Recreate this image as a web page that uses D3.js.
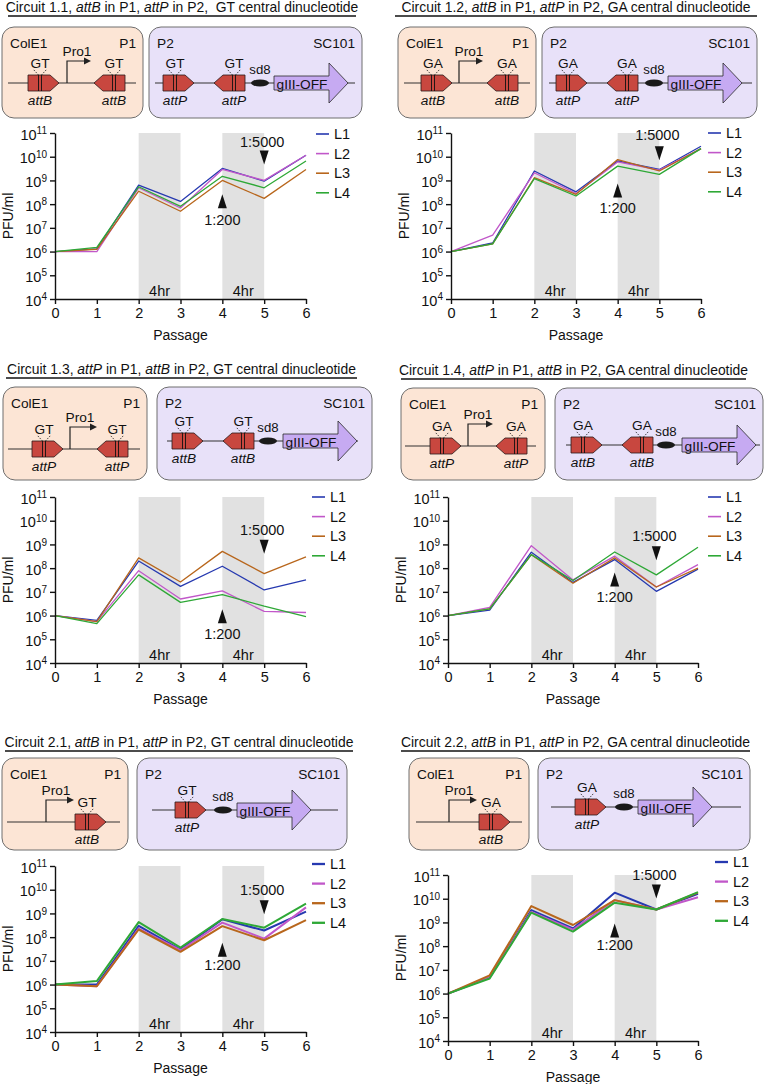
<!DOCTYPE html>
<html lang="en">
<head>
<meta charset="UTF-8">
<title>Phage passage titres, circuits 1.1 - 2.2</title>
<script src="https://d3js.org/d3.v7.min.js"></script>
<style>
    body { margin: 0; background: #fff; }
    svg { display: block; }
    text { font-family: "Liberation Sans", Arial, sans-serif; fill: #111; }
    .axis path, .axis line { stroke: #111; stroke-width: 1.4; }
    .p1 { fill: #fce5d5; stroke: #6e6e6e; stroke-width: 1; }
    .p2 { fill: #e8e1f9; stroke: #6e6e6e; stroke-width: 1; }
    .backbone { stroke: #333; stroke-width: 1.2; }
    .att { fill: #c8473f; stroke: #2a1a1a; stroke-width: 0.8; }
    .gene { fill: #c6aaf2; stroke: #2a2a2a; stroke-width: 0.8; }
    .shade { fill: #e1e1e1; }
</style>
</head>
<body>
<svg width="766" height="1084"></svg>
<script>
    // ---- data ----
    const passages = [0, 1, 2, 3, 4, 5, 6];
    const lineNames = ["L1", "L2", "L3", "L4"];
    const yTicks = [1e4, 1e5, 1e6, 1e7, 1e8, 1e9, 1e10, 1e11];
    const shaded = [[2, 3], [4, 5]];
    const shadeLabel = "4hr";

    // PFU/ml per passage, rows L1..L4
    const c11 = [
        [1e6, 1.3e6, 6.3e8, 1.3e8, 3.2e9, 9.3e8, 1.15e10],
        [1e6, 1.0e6, 4.9e8, 6.9e7, 2.9e9, 1.0e9, 1.15e10],
        [1e6, 1.25e6, 3.5e8, 5.0e7, 1.0e9, 1.75e8, 2.9e9],
        [1e6, 1.5e6, 5.4e8, 8.1e7, 1.5e9, 4.9e8, 6.6e9]
    ];
    const c12 = [
        [1e6, 2.3e6, 2.5e9, 3.3e8, 6.6e9, 2.9e9, 2.75e10],
        [1e6, 4.9e6, 2.1e9, 2.8e8, 6.0e9, 2.7e9, 2.2e10],
        [1e6, 2.1e6, 1.3e9, 2.6e8, 7.6e9, 2.5e9, 2.2e10],
        [1e6, 2.1e6, 1.2e9, 2.2e8, 4.0e9, 1.8e9, 2.2e10]
    ];
    const c13 = [
        [1e6, 6.3e5, 2.0e8, 1.7e7, 1.2e8, 1.2e7, 3.2e7],
        [1e6, 5.6e5, 7.8e7, 5.0e6, 1.1e7, 1.5e6, 1.35e6],
        [1e6, 5.6e5, 2.7e8, 2.6e7, 5.1e8, 5.9e7, 3.0e8],
        [1e6, 4.6e5, 5.2e7, 3.6e6, 7.6e6, 2.5e6, 9.1e5]
    ];
    const c14 = [
        [1e6, 1.7e6, 4.7e8, 2.5e7, 2.3e8, 1.05e7, 9.1e7],
        [1e6, 2.2e6, 8.9e8, 3.2e7, 3.2e8, 1.6e7, 1.4e8],
        [1e6, 1.9e6, 3.7e8, 2.3e7, 2.7e8, 1.6e7, 1.0e8],
        [1e6, 1.9e6, 3.7e8, 3.0e7, 4.8e8, 5.2e7, 7.6e8]
    ];
    const c21 = [
        [1e6, 1.0e6, 3.0e8, 3.0e7, 5.6e8, 1.9e8, 1.2e9],
        [1e6, 8.5e5, 2.3e8, 2.8e7, 4.1e8, 8.7e7, 1.8e9],
        [1e6, 8.5e5, 2.1e8, 2.4e7, 2.9e8, 7.4e7, 5.2e8],
        [1e6, 1.4e6, 4.3e8, 3.6e7, 5.8e8, 2.5e8, 2.6e9]
    ];
    const c22 = [
        [1e6, 4.8e6, 3.3e9, 5.6e8, 1.8e10, 3.5e9, 1.6e10],
        [1e6, 4.8e6, 2.8e9, 5.0e8, 8.7e9, 3.5e9, 1.15e10],
        [1e6, 5.9e6, 4.9e9, 7.8e8, 8.7e9, 3.5e9, 1.8e10],
        [1e6, 4.3e6, 2.6e9, 4.1e8, 6.8e9, 3.5e9, 1.9e10]
    ];

    const lineColors = ["#2639b0", "#c157c9", "#b8661c", "#2ea836"];

    // titles: [text, italic]
    const titles = {
        c11: [["Circuit 1.1, ", 0], ["attB", 1], [" in P1, ", 0], ["attP", 1], [" in P2,\u00a0 GT central dinucleotide", 0]],
        c12: [["Circuit 1.2, ", 0], ["attB", 1], [" in P1, ", 0], ["attP", 1], [" in P2, GA central dinucleotide", 0]],
        c13: [["Circuit 1.3, ", 0], ["attP", 1], [" in P1, ", 0], ["attB", 1], [" in P2, GT central dinucleotide", 0]],
        c14: [["Circuit 1.4, ", 0], ["attP", 1], [" in P1, ", 0], ["attB", 1], [" in P2, GA central dinucleotide", 0]],
        c21: [["Circuit 2.1, ", 0], ["attB", 1], [" in P1, ", 0], ["attP", 1], [" in P2, GT central dinucleotide", 0]],
        c22: [["Circuit 2.2, ", 0], ["attB", 1], [" in P1, ", 0], ["attP", 1], [" in P2, GA central dinucleotide", 0]]
    };

    // ---- layout ----
    // plot: [x0, x1, yTop, yBottom]; ann: [downTip, downLabel, upTip, upLabel] in log10 units
    const panels = [
        { data: c11, title: titles.c11, ul: [8, 356, 16], plot: [55, 306, 133, 299], legend: [316, 134], lw: 1.3,
          ann: [9.67, 10.62, 8.42, 7.33],
          p1: { box: [2, 27, 143, 118], line: [8, 136, 83], items: [
                  { t: "att", x: 28, dir: 1, name: "attB", nt: "GT" },
                  { t: "pro", x: 67, end: 90 },
                  { t: "att", x: 94, dir: -1, name: "attB", nt: "GT" }] },
          p2: { box: [149, 27, 362, 118], line: [155, 355, 83], items: [
                  { t: "att", x: 163, dir: 1, name: "attP", nt: "GT" },
                  { t: "att", x: 214, dir: -1, name: "attP", nt: "GT" },
                  { t: "sd8", x: 260 },
                  { t: "gene", x: 274 }] } },
        { data: c12, title: titles.c12, ul: [395, 757, 16], plot: [451, 701, 133, 299], legend: [708, 133], lw: 1.3,
          ann: [9.85, 10.9, 8.87, 7.82],
          p1: { box: [398, 27, 536, 118], line: [404, 530, 83], items: [
                  { t: "att", x: 421, dir: 1, name: "attB", nt: "GA" },
                  { t: "pro", x: 459, end: 482 },
                  { t: "att", x: 487, dir: -1, name: "attB", nt: "GA" }] },
          p2: { box: [542, 27, 757, 118], line: [549, 752, 83], items: [
                  { t: "att", x: 556, dir: 1, name: "attP", nt: "GA" },
                  { t: "att", x: 607, dir: -1, name: "attP", nt: "GA" },
                  { t: "sd8", x: 654 },
                  { t: "gene", x: 668 }] } },
        { data: c13, title: titles.c13, ul: [6, 357, 378], plot: [55, 306, 497, 663], legend: [312, 497], lw: 1.3,
          ann: [8.61, 9.62, 6.27, 5.23],
          p1: { box: [3, 387, 147, 480], line: [8, 140, 449], items: [
                  { t: "att", x: 32, dir: 1, name: "attP", nt: "GT" },
                  { t: "pro", x: 70, end: 96 },
                  { t: "att", x: 97, dir: -1, name: "attP", nt: "GT" }] },
          p2: { box: [157, 387, 372, 480], line: [167, 358, 441], items: [
                  { t: "att", x: 172, dir: 1, name: "attB", nt: "GT" },
                  { t: "att", x: 223, dir: -1, name: "attB", nt: "GT" },
                  { t: "sd8", x: 268 },
                  { t: "gene", x: 283 }] } },
        { data: c14, title: titles.c14, ul: [401, 746, 379], plot: [448, 698, 497, 663], legend: [708, 497], lw: 1.3,
          ann: [8.33, 9.34, 7.82, 6.78],
          p1: { box: [401, 388, 545, 480], line: [405, 536, 446], items: [
                  { t: "att", x: 430, dir: 1, name: "attP", nt: "GA" },
                  { t: "pro", x: 468, end: 492 },
                  { t: "att", x: 496, dir: -1, name: "attP", nt: "GA" }] },
          p2: { box: [555, 388, 763, 480], line: [566, 760, 445], items: [
                  { t: "att", x: 571, dir: 1, name: "attB", nt: "GA" },
                  { t: "att", x: 622, dir: -1, name: "attB", nt: "GA" },
                  { t: "sd8", x: 666 },
                  { t: "gene", x: 682 }] } },
        { data: c21, title: titles.c21, ul: [5, 353, 751], plot: [55, 306, 866, 1032], legend: [312, 864], lw: 2,
          ann: [8.97, 9.99, 7.76, 6.82],
          p1: { box: [2, 758, 128, 850], line: [7, 120, 822], items: [
                  { t: "pro", x: 46, end: 73 },
                  { t: "att", x: 75, dir: 1, name: "attB", nt: "GT" }] },
          p2: { box: [137, 758, 347, 850], line: [152, 338, 810], items: [
                  { t: "att", x: 175, dir: 1, name: "attP", nt: "GT" },
                  { t: "sd8", x: 223 },
                  { t: "gene", x: 237 }] } },
        { data: c22, title: titles.c22, ul: [401, 750, 751], plot: [448, 698, 875, 1041], legend: [715, 862], lw: 2,
          ann: [10.01, 11.0, 8.96, 8.04],
          p1: { box: [409, 758, 529, 850], line: [416, 522, 822], items: [
                  { t: "pro", x: 449, end: 476 },
                  { t: "att", x: 479, dir: 1, name: "attB", nt: "GA" }] },
          p2: { box: [538, 758, 750, 850], line: [551, 741, 807], items: [
                  { t: "att", x: 575, dir: 1, name: "attP", nt: "GA" },
                  { t: "sd8", x: 624 },
                  { t: "gene", x: 638 }] } }
    ];

    const svg = d3.select("svg");
    const diagFont = 13.2;

    // ---- construct diagrams ----
    function drawPlasmid(g, spec, cls, leftLabel, rightLabel) {
        const [bx0, by0, bx1, by1] = spec.box;
        g.append("rect").attr("class", cls)
            .attr("x", bx0).attr("y", by0)
            .attr("width", bx1 - bx0).attr("height", by1 - by0)
            .attr("rx", 12);
        g.append("text").attr("x", bx0 + 8).attr("y", by0 + 21)
            .attr("font-size", diagFont + 0.5).text(leftLabel);
        g.append("text").attr("x", bx1 - 7).attr("y", by0 + 21)
            .attr("font-size", diagFont + 0.5).attr("text-anchor", "end").text(rightLabel);

        const [lx0, lx1, ly] = spec.line;
        g.append("line").attr("class", "backbone")
            .attr("x1", lx0).attr("x2", lx1).attr("y1", ly).attr("y2", ly);

        spec.items.forEach(it => {
            if (it.t === "att") {
                const h = 8, rw = 22, pw = 9;
                let pts, cx;
                if (it.dir > 0) {
                    pts = [[it.x, ly - h], [it.x + rw, ly - h], [it.x + rw + pw, ly],
                           [it.x + rw, ly + h], [it.x, ly + h]];
                    cx = it.x + rw / 2 + 1;
                } else {
                    pts = [[it.x, ly], [it.x + pw, ly - h], [it.x + pw + rw, ly - h],
                           [it.x + pw + rw, ly + h], [it.x + pw, ly + h]];
                    cx = it.x + pw + rw / 2;
                }
                g.append("polygon").attr("class", "att")
                    .attr("points", pts.map(p => p.join(",")).join(" "));
                [-1.5, 1.5].forEach(dx => {
                    g.append("line").attr("x1", cx + dx).attr("x2", cx + dx)
                        .attr("y1", ly - h).attr("y2", ly + h)
                        .attr("stroke", "#111").attr("stroke-width", 0.9);
                });
                [[-1.5, -7], [1.5, 7]].forEach(([a, b]) => {
                    g.append("line").attr("x1", cx + a).attr("y1", ly - h)
                        .attr("x2", cx + b).attr("y2", ly - h - 6)
                        .attr("stroke", "#222").attr("stroke-width", 0.8)
                        .attr("stroke-dasharray", "1.5,1.2");
                });
                g.append("text").attr("x", cx).attr("y", ly - 15)
                    .attr("font-size", diagFont + 0.5).attr("text-anchor", "middle").text(it.nt);
                g.append("text").attr("x", cx).attr("y", ly + 22)
                    .attr("font-size", diagFont + 0.5).attr("font-style", "italic")
                    .attr("text-anchor", "middle").text(it.name);
            } else if (it.t === "pro") {
                const top = ly - 22;
                g.append("path")
                    .attr("d", `M${it.x},${ly}V${top}H${it.end - 5}`)
                    .attr("fill", "none").attr("stroke", "#222").attr("stroke-width", 1.2);
                g.append("path")
                    .attr("d", `M${it.end - 6},${top - 3.5}L${it.end + 1},${top}L${it.end - 6},${top + 3.5}Z`)
                    .attr("fill", "#222");
                g.append("text").attr("x", it.x + 10).attr("y", top - 5)
                    .attr("font-size", diagFont + 0.5).attr("text-anchor", "middle").text("Pro1");
            } else if (it.t === "sd8") {
                g.append("ellipse").attr("cx", it.x).attr("cy", ly)
                    .attr("rx", 9).attr("ry", 3.5).attr("fill", "#1a1a1a");
                g.append("text").attr("x", it.x).attr("y", ly - 9)
                    .attr("font-size", diagFont).attr("text-anchor", "middle").text("sd8");
            } else if (it.t === "gene") {
                const bw = 55, hw = 19, bh = 7, hh = 20;
                const x = it.x;
                g.append("polygon").attr("class", "gene")
                    .attr("points", [[x, ly - bh], [x + bw, ly - bh], [x + bw, ly - hh], [x + bw + hw, ly],
                                     [x + bw, ly + hh], [x + bw, ly + bh], [x, ly + bh]]
                        .map(p => p.join(",")).join(" "));
                g.append("text").attr("x", x + 28).attr("y", ly + 5.5)
                    .attr("font-size", diagFont + 0.5).attr("text-anchor", "middle").text("gIII-OFF");
            }
        });
    }

    // ---- charts ----
    function drawPanel(p) {
        const g = svg.append("g");
        const [px0, px1, pyTop, pyBot] = p.plot;

        // title with underline
        const t = g.append("text")
            .attr("x", (p.ul[0] + p.ul[1]) / 2).attr("y", p.ul[2] - 4)
            .attr("font-size", 13.9).attr("text-anchor", "middle");
        p.title.forEach(([s, it]) => {
            t.append("tspan").attr("font-style", it ? "italic" : null).text(s);
        });
        g.append("line").attr("x1", p.ul[0]).attr("x2", p.ul[1])
            .attr("y1", p.ul[2]).attr("y2", p.ul[2])
            .attr("stroke", "#111").attr("stroke-width", 1.3);

        drawPlasmid(g, p.p1, "p1", "ColE1", "P1");
        drawPlasmid(g, p.p2, "p2", "P2", "SC101");

        const x = d3.scaleLinear().domain([0, 6]).range([px0, px1]);
        const y = d3.scaleLog().domain([1e4, 1e11]).range([pyBot, pyTop]);

        // shaded 4hr passages
        shaded.forEach(([a, b]) => {
            g.append("rect").attr("class", "shade")
                .attr("x", x(a)).attr("width", x(b) - x(a))
                .attr("y", y(1e11)).attr("height", y(1e4) - y(1e11));
            g.append("text").attr("x", x((a + b) / 2)).attr("y", pyBot - 3)
                .attr("font-size", 14.5).attr("text-anchor", "middle").text(shadeLabel);
        });

        // series
        const line = d3.line().x((d, i) => x(passages[i])).y(d => y(d));
        p.data.forEach((row, k) => {
            g.append("path").datum(row)
                .attr("d", line)
                .attr("fill", "none")
                .attr("stroke", lineColors[k])
                .attr("stroke-width", p.lw)
                .attr("stroke-linejoin", "round");
        });

        // axes
        const xa = g.append("g").attr("class", "axis")
            .attr("transform", `translate(0,${pyBot})`)
            .call(d3.axisBottom(x).tickValues(passages).tickFormat(d3.format("d"))
                .tickSize(5).tickSizeOuter(0).tickPadding(4));
        xa.attr("font-size", 14.5).attr("font-family", "Liberation Sans, Arial, sans-serif");
        const ya = g.append("g").attr("class", "axis")
            .attr("transform", `translate(${px0},0)`)
            .call(d3.axisLeft(y).tickValues(yTicks).tickSize(5).tickSizeOuter(0).tickPadding(3));
        ya.attr("font-size", 14.5).attr("font-family", "Liberation Sans, Arial, sans-serif");
        ya.selectAll(".tick text").text(null).attr("dy", "0.42em")
            .each(function (d) {
                const el = d3.select(this);
                el.append("tspan").text("10");
                el.append("tspan").attr("dy", "-0.55em").attr("font-size", "10px")
                    .text(Math.round(Math.log10(d)));
            });

        g.append("text")
            .attr("transform", `translate(${px0 - 42},${(pyTop + pyBot) / 2}) rotate(-90)`)
            .attr("font-size", 14).attr("text-anchor", "middle").text("PFU/ml");
        g.append("text").attr("x", (px0 + px1) / 2).attr("y", pyBot + 41)
            .attr("font-size", 14).attr("text-anchor", "middle").text("Passage");

        // dilution markers
        const [dTip, dLab, uTip, uLab] = p.ann.map(v => y(Math.pow(10, v)));
        const x5 = x(5), x4 = x(4);
        g.append("path").attr("d", `M${x5 - 4.5},${dTip - 14}L${x5 + 4.5},${dTip - 14}L${x5},${dTip}Z`)
            .attr("fill", "#111");
        g.append("text").attr("x", x5 - 2).attr("y", dLab + 5)
            .attr("font-size", 14.5).attr("text-anchor", "middle").text("1:5000");
        g.append("path").attr("d", `M${x4 - 4.5},${uTip + 14}L${x4 + 4.5},${uTip + 14}L${x4},${uTip}Z`)
            .attr("fill", "#111");
        g.append("text").attr("x", x4).attr("y", uLab + 5)
            .attr("font-size", 14.5).attr("text-anchor", "middle").text("1:200");

        // legend
        lineNames.forEach((name, k) => {
            const ly = p.legend[1] + k * 19.6;
            g.append("line").attr("x1", p.legend[0]).attr("x2", p.legend[0] + 13)
                .attr("y1", ly).attr("y2", ly)
                .attr("stroke", lineColors[k]).attr("stroke-width", p.lw + 0.3);
            g.append("text").attr("x", p.legend[0] + 18).attr("y", ly + 5)
                .attr("font-size", 14.5).text(name);
        });
    }

    panels.forEach(drawPanel);
</script>
</body>
</html>
